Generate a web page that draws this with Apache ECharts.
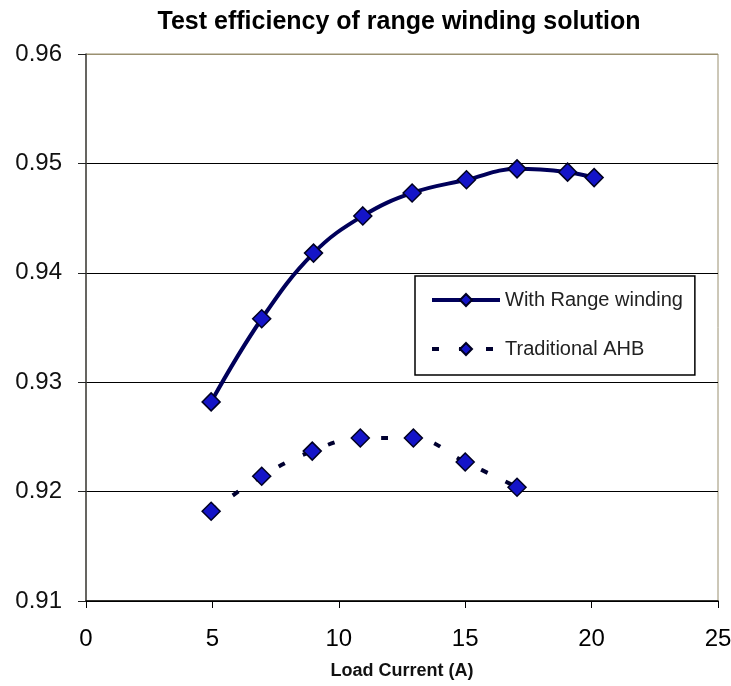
<!DOCTYPE html>
<html>
<head>
<meta charset="utf-8">
<script src="https://cdn.jsdelivr.net/npm/echarts@6/dist/echarts.min.js"></script>
<style>
html,body{margin:0;padding:0;background:#fff;}
#chart{width:731px;height:686px;}
</style>
</head>
<body>
<div id="chart"></div>
<script>
const titleText = 'Test efficiency of range winding solution';
const xAxisName = 'Load Current (A)';
const seriesNames = ['With Range winding', 'Traditional AHB'];
const loadCurrentRange = [4.95, 6.95, 9.0, 10.95, 12.9, 15.05, 17.05, 19.05, 20.1];
const effRange = [0.9282, 0.9358, 0.9418, 0.9452, 0.9473, 0.9485, 0.9495, 0.9492, 0.9487];
const loadCurrentAHB = [4.95, 6.95, 8.95, 10.85, 12.95, 15.0, 17.05];
const effAHB = [0.9182, 0.9214, 0.9237, 0.9249, 0.9249, 0.9227, 0.9204];

const FONT = '"Liberation Sans", Arial, sans-serif';
const pairs = (xs, ys) => xs.map((x, i) => [x, ys[i]]);

const chart = echarts.init(document.getElementById('chart'), null, {renderer: 'canvas'});
chart.setOption({
  backgroundColor: '#ffffff',
  animation: false,
  title: {
    text: titleText,
    left: 399,
    textAlign: 'center',
    top: 10,
    padding: 0,
    textStyle: {fontFamily: FONT, fontSize: 25, fontWeight: 'bold', color: '#000'}
  },
  legend: {
    orient: 'vertical',
    left: 415,
    top: 276,
    padding: [14, 12, 16, 15],
    itemGap: 29,
    itemWidth: 68,
    itemHeight: 15,
    borderColor: '#000',
    borderWidth: 1.5,
    backgroundColor: '#fff',
    lineStyle: {width: 4},
    textStyle: {fontFamily: FONT, fontSize: 20, color: '#222', lineHeight: 20},
    data: seriesNames
  },
  grid: {left: 86, top: 54, right: 13, bottom: 85, containLabel: false, outerBoundsMode: 'none',
    show: true, borderColor: '#9a9070', borderWidth: 1, backgroundColor: 'transparent'},
  xAxis: {
    type: 'value',
    min: 0, max: 25, interval: 5,
    name: xAxisName,
    nameLocation: 'middle',
    nameGap: 61,
    nameTextStyle: {fontFamily: FONT, fontSize: 18, fontWeight: 'bold', color: '#111'},
    axisLine: {show: true, onZero: false, lineStyle: {color: '#000', width: 1.5}},
    axisTick: {show: true, inside: false, length: 7, lineStyle: {color: '#000', width: 1}},
    axisLabel: {margin: 26, fontFamily: FONT, fontSize: 24, color: '#000'},
    splitLine: {show: false}
  },
  yAxis: {
    type: 'value',
    min: 0.91, max: 0.96, interval: 0.01,
    axisLine: {show: true, onZero: false, lineStyle: {color: '#444', width: 1.5}},
    axisTick: {show: true, inside: false, length: 8, lineStyle: {color: '#222', width: 1}},
    axisLabel: {margin: 24, fontFamily: FONT, fontSize: 24, color: '#111',
      formatter: v => v.toFixed(2)},
    splitLine: {show: true, lineStyle: {color: ['#000', '#000', '#000', '#000', '#000', '#9a9070'], width: 1.2}}
  },
  series: [
    {
      name: seriesNames[0],
      type: 'line',
      data: pairs(loadCurrentRange, effRange),
      smooth: 0.4,
      symbol: 'diamond',
      symbolSize: 18,
      lineStyle: {color: '#00005a', width: 4},
      itemStyle: {color: '#1414c8', borderColor: '#000022', borderWidth: 1.5},
      z: 3
    },
    {
      name: seriesNames[1],
      type: 'line',
      data: pairs(loadCurrentAHB, effAHB),
      smooth: 0.4,
      symbol: 'diamond',
      symbolSize: 18,
      lineStyle: {color: '#000030', width: 4, type: [7, 20]},
      itemStyle: {color: '#1414c8', borderColor: '#000022', borderWidth: 1.5},
      z: 2
    }
  ]
});
</script>
</body>
</html>
